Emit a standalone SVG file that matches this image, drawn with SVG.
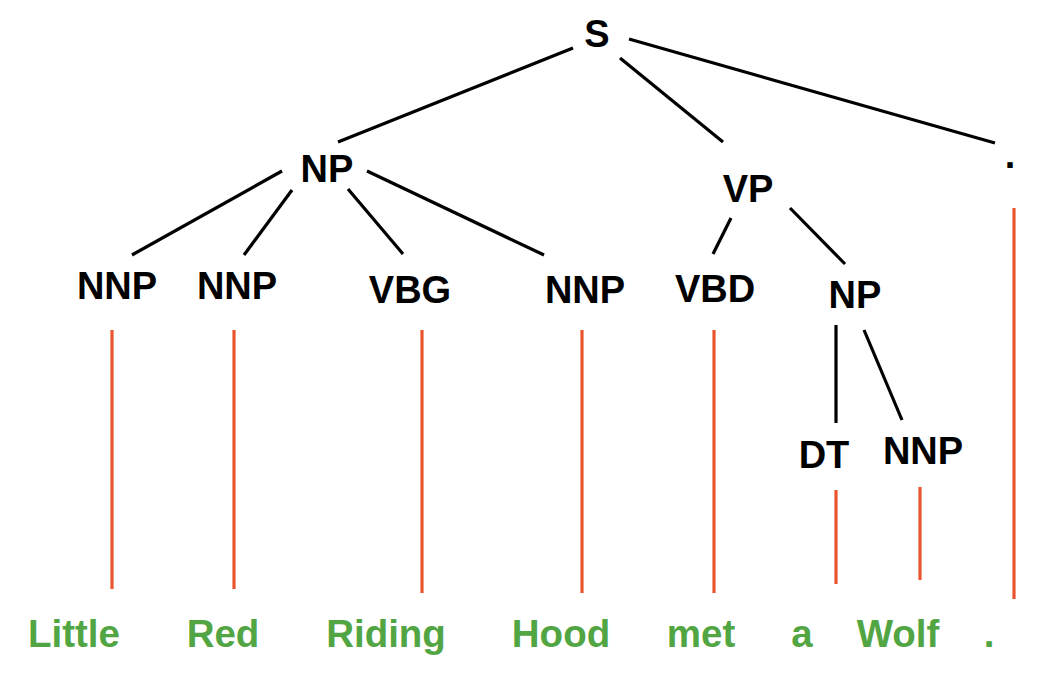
<svg xmlns="http://www.w3.org/2000/svg" width="1048" height="676" viewBox="0 0 1048 676">
<style>
.n{font-family:"Liberation Sans",Arial,sans-serif;font-weight:bold;font-size:38px;fill:#000;text-anchor:middle}
.w{font-family:"Liberation Sans",Arial,sans-serif;font-weight:bold;font-size:38.5px;fill:#52a543;text-anchor:middle}
.e{stroke:#000;stroke-width:3.2;fill:none}
.o{stroke:#e8552f;stroke-width:3.2;fill:none}
</style>
<rect width="1048" height="676" fill="#fff"/>
<g id="connectors">
<line class="e" x1="573" y1="48" x2="338" y2="142"/>
<line class="e" x1="620" y1="58" x2="723" y2="142"/>
<line class="e" x1="629" y1="39" x2="995" y2="143"/>
<line class="e" x1="282" y1="171" x2="132" y2="255"/>
<line class="e" x1="292" y1="190" x2="244" y2="255"/>
<line class="e" x1="348" y1="189" x2="403" y2="254"/>
<line class="e" x1="367" y1="171" x2="544" y2="255"/>
<line class="e" x1="731" y1="218" x2="713" y2="254"/>
<line class="e" x1="790" y1="208" x2="845" y2="264"/>
<line class="e" x1="836" y1="325" x2="836" y2="423"/>
<line class="e" x1="864" y1="330" x2="902" y2="420"/>
<line class="o" x1="112" y1="330" x2="112" y2="589"/>
<line class="o" x1="234" y1="330" x2="234" y2="589"/>
<line class="o" x1="422" y1="330" x2="422" y2="593"/>
<line class="o" x1="582" y1="330" x2="582" y2="593"/>
<line class="o" x1="714" y1="330" x2="714" y2="593"/>
<line class="o" x1="836" y1="490" x2="836" y2="584"/>
<line class="o" x1="920" y1="487" x2="920" y2="580"/>
<line class="o" x1="1014" y1="208" x2="1014" y2="599"/>
</g>
<g id="S"><text class="n" x="597" y="47">S</text></g>
<g id="NP1"><text class="n" x="327" y="182">NP</text></g>
<g id="VP"><text class="n" x="748" y="202">VP</text></g>
<g id="PUNCT"><text class="n" x="1010" y="168">.</text></g>
<g id="NNP1"><text class="n" x="117" y="299">NNP</text></g>
<g id="NNP2"><text class="n" x="237" y="299">NNP</text></g>
<g id="VBG"><text class="n" x="410" y="303">VBG</text></g>
<g id="NNP3"><text class="n" x="585" y="303">NNP</text></g>
<g id="VBD"><text class="n" x="715" y="302">VBD</text></g>
<g id="NP2"><text class="n" x="855" y="308">NP</text></g>
<g id="DT"><text class="n" x="824" y="468">DT</text></g>
<g id="NNP4"><text class="n" x="923" y="464">NNP</text></g>
<g id="words">
<text class="w" x="74" y="647">Little</text>
<text class="w" x="223" y="647">Red</text>
<text class="w" x="386" y="647">Riding</text>
<text class="w" x="561" y="647">Hood</text>
<text class="w" x="701" y="647">met</text>
<text class="w" x="802" y="647">a</text>
<text class="w" x="898" y="647">Wolf</text>
<text class="w" x="989" y="647">.</text>
</g>
</svg>
